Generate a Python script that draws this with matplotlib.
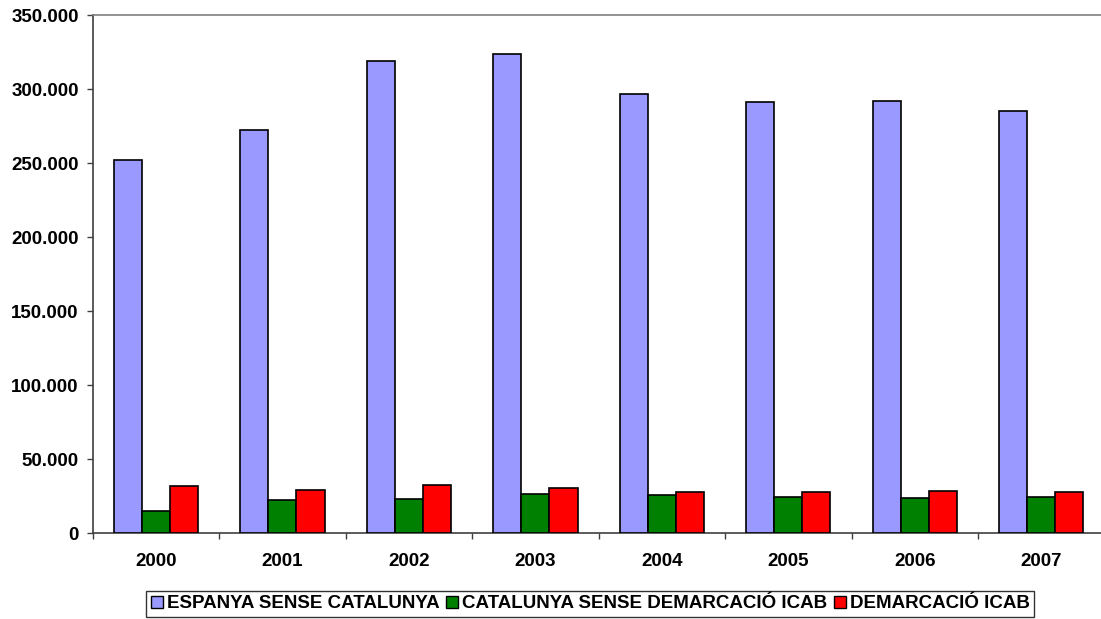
import matplotlib
matplotlib.use("Agg")
import matplotlib.pyplot as plt
import numpy as np
from matplotlib.ticker import FuncFormatter, FixedLocator
from matplotlib.patches import Patch

years = ["2000", "2001", "2002", "2003", "2004", "2005", "2006", "2007"]
espanya = [251800, 272500, 318700, 323700, 296700, 291000, 291600, 285400]
catalunya = [15300, 22500, 23200, 26800, 25700, 24700, 24100, 24700]
icab = [32000, 29100, 32600, 30400, 27700, 27700, 28400, 27700]
series_names = ["ESPANYA SENSE CATALUNYA", "CATALUNYA SENSE DEMARCACIÓ ICAB", "DEMARCACIÓ ICAB"]
colors = ["#9999FF", "#008000", "#FF0000"]

plt.rcParams['font.family'] = ['Liberation Sans', 'DejaVu Sans']
plt.rcParams['font.weight'] = 'bold'

FS = 13.5

fig = plt.figure(figsize=(11.01, 6.19), dpi=100)
ax = fig.add_axes([92.7/1101, 1-533.3/619, (1104.5-92.7)/1101, (533.3-15)/619])

x = np.arange(len(years))
w = 1/4.5
for i, (vals, c) in enumerate(zip([espanya, catalunya, icab], colors)):
    ax.bar(x + (i-1)*w, vals, width=w, color=c, edgecolor='black', linewidth=1.2, zorder=3)

ax.set_xlim(-0.5, len(years)-0.5)
ax.set_ylim(0, 350000)
ax.set_yticks(np.arange(0, 350001, 50000))
ax.yaxis.set_major_formatter(FuncFormatter(lambda v, p: f"{int(v):,}".replace(",", ".")))
ax.xaxis.set_major_locator(FixedLocator(np.arange(-0.5, len(years), 1)))
ax.xaxis.set_minor_locator(FixedLocator(x))
ax.set_xticklabels([""]*len(ax.get_xticks()))
ax.set_xticklabels(years, minor=True)
ax.tick_params(axis='x', which='major', length=4, width=1, color='#404040', direction='out')
ax.tick_params(axis='x', which='minor', length=0, pad=14, labelsize=FS)
ax.tick_params(axis='y', length=4, width=1, color='#404040', labelsize=FS, pad=6)
for lbl in ax.get_xticklabels(minor=True) + ax.get_yticklabels():
    lbl.set_fontweight('bold')

for s in ['left', 'bottom']:
    ax.spines[s].set_color('#404040')
    ax.spines[s].set_linewidth(1.2)
ax.spines['top'].set_color('#808080')
ax.spines['top'].set_linewidth(1.2)
ax.spines['right'].set_visible(False)

handles = [Patch(facecolor=c, edgecolor='black', linewidth=1.0) for c in colors]
leg = fig.legend(handles, series_names, loc='center', bbox_to_anchor=(590.2/1101, 1-604/619),
                 ncol=3, frameon=True, fancybox=False, edgecolor='black', fontsize=FS,
                 handlelength=0.65, handleheight=0.65, handletextpad=0.2, columnspacing=0.35,
                 borderpad=0.25, borderaxespad=0)
leg.get_frame().set_linewidth(1.0)
for t in leg.get_texts():
    t.set_fontweight('bold')

fig.savefig("out.png", dpi=100)
